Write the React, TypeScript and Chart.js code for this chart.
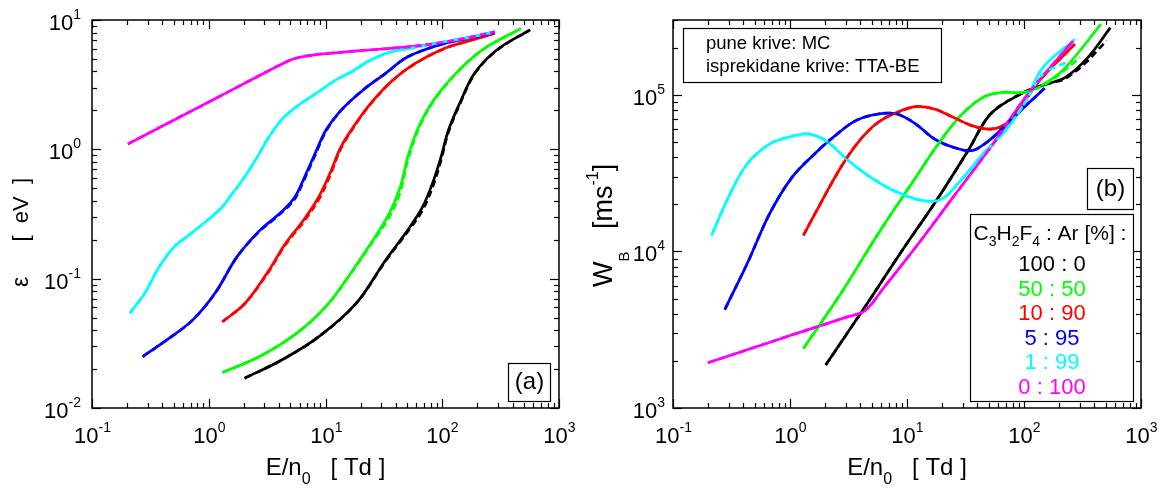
import React, { useEffect, useRef } from "react";
import { Chart, registerables } from "chart.js";

Chart.register(...registerables);

const FONT = '"Liberation Sans", Arial, Helvetica, sans-serif';

const COLORS = ["#000000", "#00ff00", "#ff0000", "#0000ff", "#00ffff", "#ff00ff"];
const MIXTURES = ["100 : 0", "50 : 50", "10 : 90", "5 : 95", "1 : 99", "0 : 100"];

// ---------- Panel (a): mean energy [eV] vs E/n0 [Td] ----------
// 100 : 0 (black)
const eA0_x = [2.03, 4.22, 8.77, 18.2, 32.7, 50.7, 68, 84.5, 97.8, 113, 141, 189, 293, 565];
const eA0_y = [0.017, 0.0235, 0.0356, 0.064, 0.139, 0.238, 0.36, 0.58, 0.877, 1.41, 2.27, 3.87, 5.86, 8.4];
const eA0_tta = [0.017, 0.0235, 0.0356, 0.064, 0.137, 0.232, 0.34, 0.54, 0.83, 1.36, 2.22, 3.82, 5.82, 8.4];
// 50 : 50 (green)
const eA1_x = [1.31, 2.72, 5.65, 10.1, 15.7, 24.4, 35.2, 43.8, 50.7, 63, 84.5, 131, 219, 471];
const eA1_y = [0.0188, 0.025, 0.0378, 0.061, 0.104, 0.187, 0.32, 0.514, 0.877, 1.5, 2.41, 3.87, 5.86, 8.6];
const eA1_tta = [0.0188, 0.025, 0.0378, 0.061, 0.103, 0.183, 0.3, 0.47, 0.82, 1.45, 2.36, 3.84, 5.84, 8.6];
// 10 : 90 (red)
const eA2_x = [1.31, 2.03, 3.15, 4.54, 6.5, 8.77, 10.9, 13.6, 18.2, 24.4, 37.8, 58.6, 105, 180, 282];
const eA2_y = [0.0465, 0.064, 0.11, 0.187, 0.284, 0.43, 0.65, 1.05, 1.59, 2.27, 3.43, 4.62, 6.04, 7.0, 7.9];
const eA2_tta = [0.0465, 0.064, 0.108, 0.183, 0.275, 0.41, 0.62, 1.02, 1.57, 2.25, 3.42, 4.6, 6.03, 7.0, 7.9];
// 5 : 95 (blue)
const eA3_x = [0.272, 0.437, 0.73, 1.13, 1.75, 2.72, 3.5, 4.22, 5.0, 5.65, 6.5, 8.15, 10.1, 13.6, 21, 32.7, 50.7, 105, 180, 282];
const eA3_y = [0.025, 0.0336, 0.048, 0.077, 0.148, 0.235, 0.285, 0.33, 0.385, 0.45, 0.59, 0.93, 1.41, 2.01, 2.88, 3.87, 5.2, 6.6, 7.3, 8.0];
const eA3_tta = [0.025, 0.0336, 0.048, 0.077, 0.148, 0.233, 0.28, 0.325, 0.375, 0.435, 0.57, 0.9, 1.38, 2.0, 2.88, 3.87, 5.2, 6.6, 7.3, 8.0];
// 1 : 99 (cyan)
const eA4_x = [0.211, 0.282, 0.378, 0.507, 0.68, 0.98, 1.31, 1.52, 2.0, 2.72, 3.15, 4.2, 5.65, 8.77, 12, 16.9, 24.4, 35, 50.7, 105, 180, 282];
const eA4_y = [0.054, 0.077, 0.124, 0.177, 0.218, 0.284, 0.36, 0.43, 0.6, 0.93, 1.18, 1.69, 2.14, 2.8, 3.4, 4.0, 4.9, 5.6, 6.0, 6.8, 7.4, 8.1];
// 0 : 100 (magenta)
const eA5_x = [0.203, 0.5, 1, 2, 3.5, 4.2, 5.0, 6.0, 8.0, 10.1, 20, 50.7, 100, 180, 282];
const eA5_y = [1.1, 1.68, 2.32, 3.22, 4.19, 4.55, 4.9, 5.15, 5.38, 5.5, 5.8, 6.2, 6.7, 7.4, 8.1];

// ---------- Panel (b): bulk drift velocity [m/s] vs E/n0 [Td] ----------
// 100 : 0 (black)
const wB0_x = [2.02, 4.22, 8.83, 18.5, 33.3, 51.8, 93.3, 156, 226, 352, 547];
const wB0_y = [1880, 4250, 9800, 22000, 44000, 75300, 101000, 117000, 129000, 173000, 268000];
const wB0_tta_x = [2.02, 4.22, 8.83, 18.5, 33.3, 51.8, 93.3, 156, 226, 352, 420, 508];
const wB0_tta_y = [1880, 4250, 9800, 22000, 44000, 75300, 101000, 117000, 127000, 165000, 190000, 221000];
// 50 : 50 (green)
const wB1_x = [1.3, 2.72, 5.67, 11.9, 18.5, 28.7, 44.7, 64.6, 100, 156, 226, 455];
const wB1_y = [2400, 5380, 12970, 29700, 48500, 73500, 96200, 103500, 103500, 120000, 149000, 282000];
const wB1_tta_x = [1.3, 2.72, 5.67, 11.9, 18.5, 28.7, 44.7, 64.6, 100, 156, 226, 302];
const wB1_tta_y = [2400, 5380, 12970, 29700, 48500, 73500, 96200, 103500, 103500, 118000, 145000, 173000];
// 10 : 90 (red)
const wB2_x = [1.3, 1.75, 2.72, 3.93, 5.67, 8.2, 11.9, 17.1, 24.8, 35.8, 51.8, 69.5, 93.3, 135, 272];
const wB2_y = [12650, 19100, 34400, 51000, 66700, 77100, 83900, 81100, 71800, 63500, 60400, 65000, 83000, 122700, 210300];
// 5 : 95 (blue)
const wB3_x = [0.277, 0.43, 0.67, 1.04, 1.62, 2.34, 3.65, 5.67, 8.2, 11.9, 17.1, 24.8, 35.8, 48, 64.6, 93.3, 150];
const wB3_y = [4250, 8340, 17400, 29700, 41900, 53500, 68300, 75300, 75300, 65000, 52300, 46200, 44000, 49700, 60400, 79100, 110000];
// 1 : 99 (cyan)
const wB4_x = [0.214, 0.298, 0.43, 0.67, 0.968, 1.4, 2.02, 3.15, 4.9, 8.2, 13.7, 19.9, 28.7, 44.7, 69.5, 100, 145, 272];
const wB4_y = [12650, 22200, 36100, 48500, 53500, 56200, 51000, 38000, 29700, 23900, 21100, 21600, 28300, 41900, 59000, 87100, 149000, 226000];
const wB4_tta_x = [0.214, 0.298, 0.43, 0.67, 0.968, 1.4, 2.02, 3.15, 4.9, 8.2, 13.7, 19.9, 28.7, 44.7, 69.5, 100, 145, 226];
const wB4_tta_y = [12650, 22200, 36100, 48500, 53500, 56200, 51000, 38000, 29700, 23900, 21100, 21600, 28300, 41900, 59000, 87100, 135000, 160000];
// 0 : 100 (magenta)
const wB5_x = [0.199, 0.5, 1, 2, 3, 4.22, 5, 6.1, 11.9, 24.8, 51.8, 108, 210, 262];
const wB5_y = [1946, 2440, 2900, 3430, 3790, 4110, 4630, 5650, 10660, 22200, 46200, 100900, 181600, 220000];

// ---------- text ----------
const NOTE_LINES = ["pune krive: MC", "isprekidane krive: TTA-BE"];

type Series = { x: number[]; y: number[]; color: string; dash?: boolean };
type Seg = { t: string; s: number; dy?: number; c?: string };

function segWidth(ctx: CanvasRenderingContext2D, segs: Seg[]) {
  let w = 0;
  for (const g of segs) {
    ctx.font = `${g.s}px ${FONT}`;
    w += ctx.measureText(g.t).width;
  }
  return w;
}

function drawSegs(ctx: CanvasRenderingContext2D, segs: Seg[], x: number, y: number, align: "left" | "center" | "right") {
  const w = segWidth(ctx, segs);
  let cx = align === "center" ? x - w / 2 : align === "right" ? x - w : x;
  ctx.textAlign = "left";
  ctx.textBaseline = "alphabetic";
  for (const g of segs) {
    ctx.font = `${g.s}px ${FONT}`;
    ctx.fillStyle = g.c || "#000";
    ctx.fillText(g.t, cx, y + (g.dy || 0));
    cx += ctx.measureText(g.t).width;
  }
}

function drawRotated(ctx: CanvasRenderingContext2D, segs: Seg[], baseX: number, startY: number, align: "left" | "right") {
  ctx.save();
  ctx.translate(baseX, 0);
  ctx.rotate(-Math.PI / 2);
  drawSegs(ctx, segs, -startY, 0, align);
  ctx.restore();
}

function logTicks(min: number, max: number) {
  const out: { v: number; major: boolean }[] = [];
  const e0 = Math.floor(Math.log10(min));
  const e1 = Math.ceil(Math.log10(max));
  for (let e = e0; e <= e1; e++) {
    for (let m = 1; m <= 9; m++) {
      const v = m * Math.pow(10, e);
      if (v >= min * 0.999 && v <= max * 1.001) out.push({ v, major: m === 1 });
    }
  }
  return out;
}

function expLabel(v: number): Seg[] {
  const e = Math.round(Math.log10(v));
  return [
    { t: "10", s: 22 },
    { t: e < 0 ? "-" + Math.abs(e) : String(e), s: 14, dy: -11 },
  ];
}

function framePlugin(yLabelRight: number, extra: (ctx: CanvasRenderingContext2D, chart: any) => void) {
  return {
    id: "frame",
    afterDraw(chart: any) {
      const ctx: CanvasRenderingContext2D = chart.ctx;
      const { left, right, top, bottom } = chart.chartArea;
      const xs = chart.scales.x;
      const ys = chart.scales.y;
      ctx.save();
      ctx.strokeStyle = "#000";
      ctx.lineWidth = 1.5;
      ctx.strokeRect(left, top, right - left, bottom - top);
      ctx.lineWidth = 1.2;
      const ln = (x1: number, y1: number, x2: number, y2: number) => {
        ctx.beginPath();
        ctx.moveTo(x1, y1);
        ctx.lineTo(x2, y2);
        ctx.stroke();
      };
      for (const t of logTicks(xs.min, xs.max)) {
        const px = Math.round(xs.getPixelForValue(t.v)) + 0.5;
        const L = t.major ? 9 : 5;
        ln(px, bottom, px, bottom - L);
        ln(px, top, px, top + L);
        if (t.major) drawSegs(ctx, expLabel(t.v), px, bottom + 35, "center");
      }
      for (const t of logTicks(ys.min, ys.max)) {
        const py = Math.round(ys.getPixelForValue(t.v)) + 0.5;
        const L = t.major ? 9 : 5;
        ln(left, py, left + L, py);
        ln(right, py, right - L, py);
        if (t.major) drawSegs(ctx, expLabel(t.v), yLabelRight, py + 9, "right");
      }
      // x title
      drawSegs(
        ctx,
        [
          { t: "E/n", s: 24 },
          { t: "0", s: 16, dy: 9 },
          { t: "   [ Td ]", s: 24 },
        ],
        (left + right) / 2,
        475,
        "center"
      );
      extra(ctx, chart);
      ctx.restore();
    },
  };
}

function buildDatasets(list: Series[]) {
  return list
    .map((s) => ({
      data: s.x.map((v, i) => ({ x: v, y: s.y[i] })),
      borderColor: s.color,
      backgroundColor: s.color,
      borderWidth: 2.7,
      borderDash: s.dash ? [7, 4] : [],
      pointRadius: 0,
      fill: false,
      showLine: true,
      tension: 0.35,
    }))
    .reverse();
}

function makeChart(
  canvas: HTMLCanvasElement,
  series: Series[],
  ymin: number,
  ymax: number,
  yWidth: number,
  padRight: number,
  plugin: any
) {
  return new Chart(canvas, {
    type: "line",
    data: { datasets: buildDatasets(series) as any },
    options: {
      animation: false,
      responsive: false,
      devicePixelRatio: 1,
      layout: { padding: { left: 0, right: padRight, top: 20, bottom: 0 } },
      plugins: { legend: { display: false }, tooltip: { enabled: false } },
      scales: {
        x: {
          type: "logarithmic",
          min: 0.1,
          max: 1000,
          grid: { display: false },
          border: { display: false },
          ticks: { display: false },
          afterFit: (s: any) => {
            s.height = 80;
          },
        },
        y: {
          type: "logarithmic",
          min: ymin,
          max: ymax,
          grid: { display: false },
          border: { display: false },
          ticks: { display: false },
          afterFit: (s: any) => {
            s.width = yWidth;
          },
        },
      },
    } as any,
    plugins: [plugin],
  });
}

export default function App() {
  const refA = useRef<HTMLCanvasElement>(null);
  const refB = useRef<HTMLCanvasElement>(null);

  useEffect(() => {
    const seriesA: Series[] = [
      { x: eA0_x, y: eA0_y, color: COLORS[0] },
      { x: eA1_x, y: eA1_y, color: COLORS[1] },
      { x: eA2_x, y: eA2_y, color: COLORS[2] },
      { x: eA3_x, y: eA3_y, color: COLORS[3] },
      { x: eA4_x, y: eA4_y, color: COLORS[4] },
      { x: eA5_x, y: eA5_y, color: COLORS[5] },
      { x: eA0_x, y: eA0_tta, color: COLORS[0], dash: true },
      { x: eA1_x, y: eA1_tta, color: COLORS[1], dash: true },
      { x: eA2_x, y: eA2_tta, color: COLORS[2], dash: true },
      { x: eA3_x, y: eA3_tta, color: COLORS[3], dash: true },
      { x: eA4_x, y: eA4_y, color: COLORS[4], dash: true },
      { x: eA5_x, y: eA5_y, color: COLORS[5], dash: true },
    ];
    const seriesB: Series[] = [
      { x: wB0_x, y: wB0_y, color: COLORS[0] },
      { x: wB1_x, y: wB1_y, color: COLORS[1] },
      { x: wB2_x, y: wB2_y, color: COLORS[2] },
      { x: wB3_x, y: wB3_y, color: COLORS[3] },
      { x: wB4_x, y: wB4_y, color: COLORS[4] },
      { x: wB5_x, y: wB5_y, color: COLORS[5] },
      { x: wB0_tta_x, y: wB0_tta_y, color: COLORS[0], dash: true },
      { x: wB1_tta_x, y: wB1_tta_y, color: COLORS[1], dash: true },
      { x: wB2_x, y: wB2_y, color: COLORS[2], dash: true },
      { x: wB3_x, y: wB3_y, color: COLORS[3], dash: true },
      { x: wB4_tta_x, y: wB4_tta_y, color: COLORS[4], dash: true },
      { x: wB5_x, y: wB5_y, color: COLORS[5], dash: true },
    ];

    const plugA = framePlugin(81, (ctx) => {
      // y title
      drawRotated(ctx, [{ t: "ε", s: 23 }], 28, 287, "left");
      drawRotated(ctx, [{ t: "[  eV  ]", s: 22 }], 28, 178, "right");
      // (a) box
      ctx.lineWidth = 1.2;
      ctx.strokeStyle = "#000";
      ctx.strokeRect(508.5, 363.5, 42, 38);
      drawSegs(ctx, [{ t: "(a)", s: 24 }], 529.5, 389, "center");
    });

    const plugB = framePlugin(85, (ctx) => {
      drawRotated(
        ctx,
        [
          { t: "W", s: 27 },
          { t: "B", s: 15, dy: 17 },
          { t: "   [ms", s: 27 },
          { t: "-1", s: 16, dy: -14 },
          { t: "]", s: 27 },
        ],
        32,
        287,
        "left"
      );
      ctx.lineWidth = 1.2;
      ctx.strokeStyle = "#000";
      // note box
      ctx.fillStyle = "#fff";
      ctx.fillRect(103, 28, 258, 54);
      ctx.strokeRect(103.5, 28.5, 258, 54);
      drawSegs(ctx, [{ t: NOTE_LINES[0], s: 18.5 }], 126, 49, "left");
      drawSegs(ctx, [{ t: NOTE_LINES[1], s: 18.5 }], 126, 72, "left");
      // (b) box
      ctx.fillStyle = "#fff";
      ctx.fillRect(507, 168, 46, 41);
      ctx.strokeRect(507.5, 168.5, 46, 41);
      drawSegs(ctx, [{ t: "(b)", s: 24 }], 530.5, 196, "center");
      // legend box
      ctx.fillStyle = "#fff";
      ctx.fillRect(390, 214, 163, 187);
      ctx.strokeRect(390.5, 214.5, 163, 187);
      drawSegs(
        ctx,
        [
          { t: "C", s: 21 },
          { t: "3", s: 14, dy: 6 },
          { t: "H", s: 21 },
          { t: "2", s: 14, dy: 6 },
          { t: "F", s: 21 },
          { t: "4", s: 14, dy: 6 },
          { t: " : Ar [%] :", s: 21 },
        ],
        470,
        240,
        "center"
      );
      const baselines = [271, 296, 320, 345, 369, 394];
      MIXTURES.forEach((m, i) => {
        drawSegs(ctx, [{ t: m, s: 22, c: COLORS[i] }], 472, baselines[i], "center");
      });
    });

    const chartA = makeChart(refA.current!, seriesA, 0.01, 10, 92, 21, plugA);
    const chartB = makeChart(refB.current!, seriesB, 1000, 300000, 93, 24, plugB);
    return () => {
      chartA.destroy();
      chartB.destroy();
    };
  }, []);

  return (
    <div style={{ position: "absolute", left: 0, top: 0, width: 1165, height: 488, background: "#fff" }}>
      <canvas ref={refA} width={580} height={488} style={{ position: "absolute", left: 0, top: 0, width: 580, height: 488 }} />
      <canvas ref={refB} width={585} height={488} style={{ position: "absolute", left: 580, top: 0, width: 585, height: 488 }} />
    </div>
  );
}
